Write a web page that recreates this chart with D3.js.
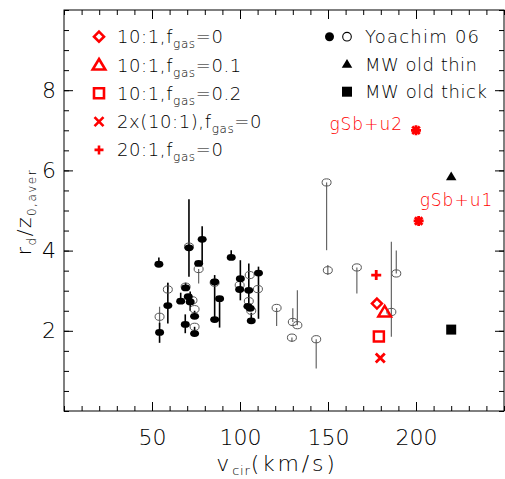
<!DOCTYPE html>
<html><head><meta charset="utf-8">
<script src="https://cdn.jsdelivr.net/npm/d3@7"></script>
<style>
body{margin:0;background:#fff;}
text{font-family:"DejaVu Sans",sans-serif;font-weight:200;}
</style></head>
<body><svg id="c" width="505" height="479"></svg>
<script>
// ---- data ----
// Yoachim 06 filled points: [vcir, rd/z0, errLow, errHigh]
const yoachimFilled = [
  [53.9,3.66,3.60,3.83],[54.3,1.96,1.70,2.20],[59.0,2.63,2.18,3.20],[66.3,2.74,2.70,2.95],
  [68.9,2.16,1.94,2.41],[69.1,3.07,3.00,3.20],[70.6,2.85,2.80,2.90],[71.7,2.72,2.50,2.98],
  [71.0,4.07,3.35,5.28],[74.2,2.36,2.36,2.50],[74.2,1.93,1.93,2.10],[76.5,3.68,3.68,3.68],
  [78.5,4.28,3.68,4.61],[85.6,3.22,2.30,3.39],[85.6,2.28,2.28,2.28],[88.4,2.80,2.08,2.80],
  [95.0,3.83,3.83,4.01],[100.2,3.30,2.76,3.76],[99.8,3.03,3.03,3.03],[105.0,3.01,2.69,3.68],
  [104.5,2.61,2.61,2.61],[105.8,2.56,2.56,2.56],[106.4,2.25,2.25,2.45],[110.5,3.44,2.30,3.60]
];
// Yoachim 06 open points: [vcir, rd/z0, errLow, errHigh]
const yoachimOpen = [
  [54.3,2.35,2.10,2.60],[59.0,3.03,3.03,3.20],[69.1,3.10,3.10,3.10],[71.0,4.10,4.10,4.10],
  [73.0,2.76,2.76,2.76],[74.2,2.54,2.54,2.54],[74.2,2.10,2.10,2.10],[76.5,3.54,3.18,3.54],
  [85.6,3.20,3.20,3.20],[99.8,3.14,3.14,3.14],[105.5,3.39,3.39,3.39],[105.0,2.74,2.74,2.74],
  [106.4,2.50,2.50,2.50],[110.2,3.04,3.04,3.04],[120.8,2.57,2.12,2.57],[130.0,2.22,2.22,2.56],
  [132.6,2.14,2.14,3.01],[129.5,1.83,1.72,1.83],[143.3,1.79,1.06,1.79],[149.2,5.70,4.01,5.70],
  [149.9,3.51,3.39,3.64],[166.4,3.58,2.93,3.58],[186.0,2.47,1.85,4.22],[188.8,3.43,3.43,4.00]
];
// simulations (red)
const simDiamond = [[177.8,2.68]];   // 10:1, fgas=0
const simTriangle = [[182.2,2.47]];  // 10:1, fgas=0.1
const simSquare = [[178.9,1.86]];    // 10:1, fgas=0.2
const simCross = [[179.7,1.32]];     // 2x(10:1), fgas=0
const simPlus = [[177.4,3.39]];      // 20:1, fgas=0
const simStar = [[200.0,7.00,"gSb+u2"],[201.5,4.74,"gSb+u1"]];
// Milky Way
const mwThin = [[220,5.85]];
const mwThick = [[220,2.03]];
// ticks
const xMajor = [50,100,150,200];
const yMajor = [2,4,6,8];
const xMinor = d3.range(0,251,10);
const yMinor = d3.range(0,10.01,0.5);

// ---- chart ----
const svg = d3.select("#c");
const x = d3.scaleLinear([0,250],[64,504]);
const y = d3.scaleLinear([0,10],[411,10]);
const RED="#ff0000";

function axisStyle(g){g.select(".domain").remove();g.selectAll("line").attr("stroke","#000");}
// minor ticks (all sides)
svg.append("g").attr("transform",`translate(0,411)`).call(d3.axisBottom(x).tickValues(xMinor).tickSize(-5).tickFormat("")).call(axisStyle);
svg.append("g").attr("transform",`translate(0,10)`).call(d3.axisTop(x).tickValues(xMinor).tickSize(-5).tickFormat("")).call(axisStyle);
svg.append("g").attr("transform",`translate(64,0)`).call(d3.axisLeft(y).tickValues(yMinor).tickSize(-5).tickFormat("")).call(axisStyle);
svg.append("g").attr("transform",`translate(504,0)`).call(d3.axisRight(y).tickValues(yMinor).tickSize(-5).tickFormat("")).call(axisStyle);
// major ticks + labels
const gx = svg.append("g").attr("transform",`translate(0,411)`).call(d3.axisBottom(x).tickValues(xMajor).tickSize(-9).tickPadding(18).tickFormat(d3.format("d"))).call(axisStyle);
gx.selectAll("text").attr("font-size",22).attr("fill","#000").style("font-family","DejaVu Sans").style("font-weight",200);
svg.append("g").attr("transform",`translate(0,10)`).call(d3.axisTop(x).tickValues(xMajor).tickSize(-9).tickFormat("")).call(axisStyle);
const gy = svg.append("g").attr("transform",`translate(64,0)`).call(d3.axisLeft(y).tickValues(yMajor).tickSize(-9).tickPadding(8).tickFormat(d3.format("d"))).call(axisStyle);
gy.selectAll("text").attr("font-size",22).attr("fill","#000").style("font-family","DejaVu Sans").style("font-weight",200);
svg.append("g").attr("transform",`translate(504,0)`).call(d3.axisRight(y).tickValues(yMajor).tickSize(-9).tickFormat("")).call(axisStyle);
// frame
svg.append("rect").attr("x",64).attr("y",10).attr("width",440).attr("height",401).attr("fill","none").attr("stroke","#000").attr("stroke-width",1);

// axis titles
const xt = svg.append("text").attr("x",277).attr("y",471).attr("text-anchor","middle").attr("font-size",22).attr("fill","#000").attr("letter-spacing",2.8);
xt.append("tspan").text("v");
xt.append("tspan").attr("font-size",13).attr("letter-spacing",0.8).attr("dy",4).text("cir");
xt.append("tspan").attr("dy",-4).text("(km/s)");
const yt = svg.append("text").attr("transform","translate(31,212) rotate(-90)").attr("text-anchor","middle").attr("font-size",20).attr("fill","#000").attr("letter-spacing",1.5);
yt.append("tspan").text("r");
yt.append("tspan").attr("font-size",12).attr("dy",5).text("d");
yt.append("tspan").attr("dy",-5).text("/z");
yt.append("tspan").attr("font-size",12).attr("dy",5).text("0,aver");

// Yoachim error bars
svg.append("g").selectAll("line").data(yoachimOpen).join("line")
  .attr("x1",d=>x(d[0])).attr("x2",d=>x(d[0])).attr("y1",d=>y(d[2])).attr("y2",d=>y(d[3]))
  .attr("stroke","#666").attr("stroke-width",1.2);
svg.append("g").selectAll("line").data(yoachimFilled).join("line")
  .attr("x1",d=>x(d[0])).attr("x2",d=>x(d[0])).attr("y1",d=>y(d[2])).attr("y2",d=>y(d[3]))
  .attr("stroke","#000").attr("stroke-width",1.6);
svg.append("g").selectAll("ellipse").data(yoachimOpen).join("ellipse")
  .attr("cx",d=>x(d[0])).attr("cy",d=>y(d[1])).attr("rx",4.5).attr("ry",3.6)
  .attr("fill","none").attr("stroke","#555").attr("stroke-width",1);
svg.append("g").selectAll("ellipse").data(yoachimFilled).join("ellipse")
  .attr("cx",d=>x(d[0])).attr("cy",d=>y(d[1])).attr("rx",4.5).attr("ry",3.4)
  .attr("fill","#000");

// marker path generators (centered at 0,0)
const mk = {
  diamond:s=>`M0,${-s}L${s},0L0,${s}L${-s},0Z`,
  triangle:s=>`M0,${-s}L${s*1.05},${s*0.75}L${-s*1.05},${s*0.75}Z`,
  square:s=>`M${-s},${-s}H${s}V${s}H${-s}Z`,
  cross:s=>`M${-s},${-s}L${s},${s}M${s},${-s}L${-s},${s}`,
  plus:s=>`M${-s},0H${s}M0,${-s}V${s}`,
  star:s=>`M${-s},0H${s}M0,${-s}V${s}M${-s*0.75},${-s*0.75}L${s*0.75},${s*0.75}M${s*0.75},${-s*0.75}L${-s*0.75},${s*0.75}`
};
function drawRed(data,type,s,sw){
  svg.append("g").selectAll("path").data(data).join("path")
    .attr("transform",d=>`translate(${x(d[0])},${y(d[1])})`)
    .attr("d",mk[type](s)).attr("fill","none").attr("stroke",RED).attr("stroke-width",sw);
}
drawRed(simDiamond,"diamond",5,2.5);
drawRed(simTriangle,"triangle",6,2.5);
drawRed(simSquare,"square",5,2.5);
drawRed(simCross,"cross",4.5,2.8);
drawRed(simPlus,"plus",5,2.8);
drawRed(simStar,"star",5,2.8);
svg.append("g").selectAll("text").data(simStar).join("text")
  .attr("x",(d,i)=>i===0?x(d[0])-13:x(d[0])+1)
  .attr("y",(d,i)=>i===0?y(d[1])-0:y(d[1])-15)
  .attr("text-anchor",(d,i)=>i===0?"end":"start")
  .attr("font-size",17).attr("fill",RED).attr("letter-spacing",1).text(d=>d[2]);

// MW
svg.append("g").selectAll("path").data(mwThin).join("path")
  .attr("transform",d=>`translate(${x(d[0])},${y(d[1])})`).attr("d",mk.triangle(5)).attr("fill","#000");
svg.append("g").selectAll("path").data(mwThick).join("path")
  .attr("transform",d=>`translate(${x(d[0])},${y(d[1])})`).attr("d",mk.square(5)).attr("fill","#000");

// ---- legends ----
const legL = [
  ["diamond","10:1,f","gas","=0"],
  ["triangle","10:1,f","gas","=0.1"],
  ["square","10:1,f","gas","=0.2"],
  ["cross","2x(10:1),f","gas","=0"],
  ["plus","20:1,f","gas","=0"]
];
const legLSize = {diamond:5,triangle:6,square:5,cross:4.5,plus:4.5};
legL.forEach((d,i)=>{
  const cy = 36.7 + i*28.3;
  svg.append("path").attr("transform",`translate(99,${cy})`).attr("d",mk[d[0]](legLSize[d[0]]))
    .attr("fill","none").attr("stroke",RED).attr("stroke-width",2.6);
  const t = svg.append("text").attr("x",117).attr("y",cy+6.5).attr("font-size",18).attr("fill","#000").attr("letter-spacing",0.6);
  t.append("tspan").text(d[1]);
  t.append("tspan").attr("font-size",12).attr("dy",5).text(d[2]);
  t.append("tspan").attr("dy",-5).text(d[3]);
});
const legR = ["Yoachim 06","MW old thin","MW old thick"];
const legRW = [114,112,122];
legR.forEach((s,i)=>{
  svg.append("text").attr("x",365).attr("y",36.7+i*27.5+6.5).attr("font-size",18).attr("fill","#000")
    .attr("textLength",legRW[i]).attr("lengthAdjust","spacing").text(s);
});
svg.append("circle").attr("cx",329.5).attr("cy",36.7).attr("r",4.5).attr("fill","#000");
svg.append("circle").attr("cx",347).attr("cy",36.7).attr("r",4.3).attr("fill","none").attr("stroke","#000").attr("stroke-width",1.1);
svg.append("path").attr("transform","translate(347,64)").attr("d",mk.triangle(5)).attr("fill","#000");
svg.append("path").attr("transform","translate(347,91.7)").attr("d",mk.square(5)).attr("fill","#000");
</script></body></html>
